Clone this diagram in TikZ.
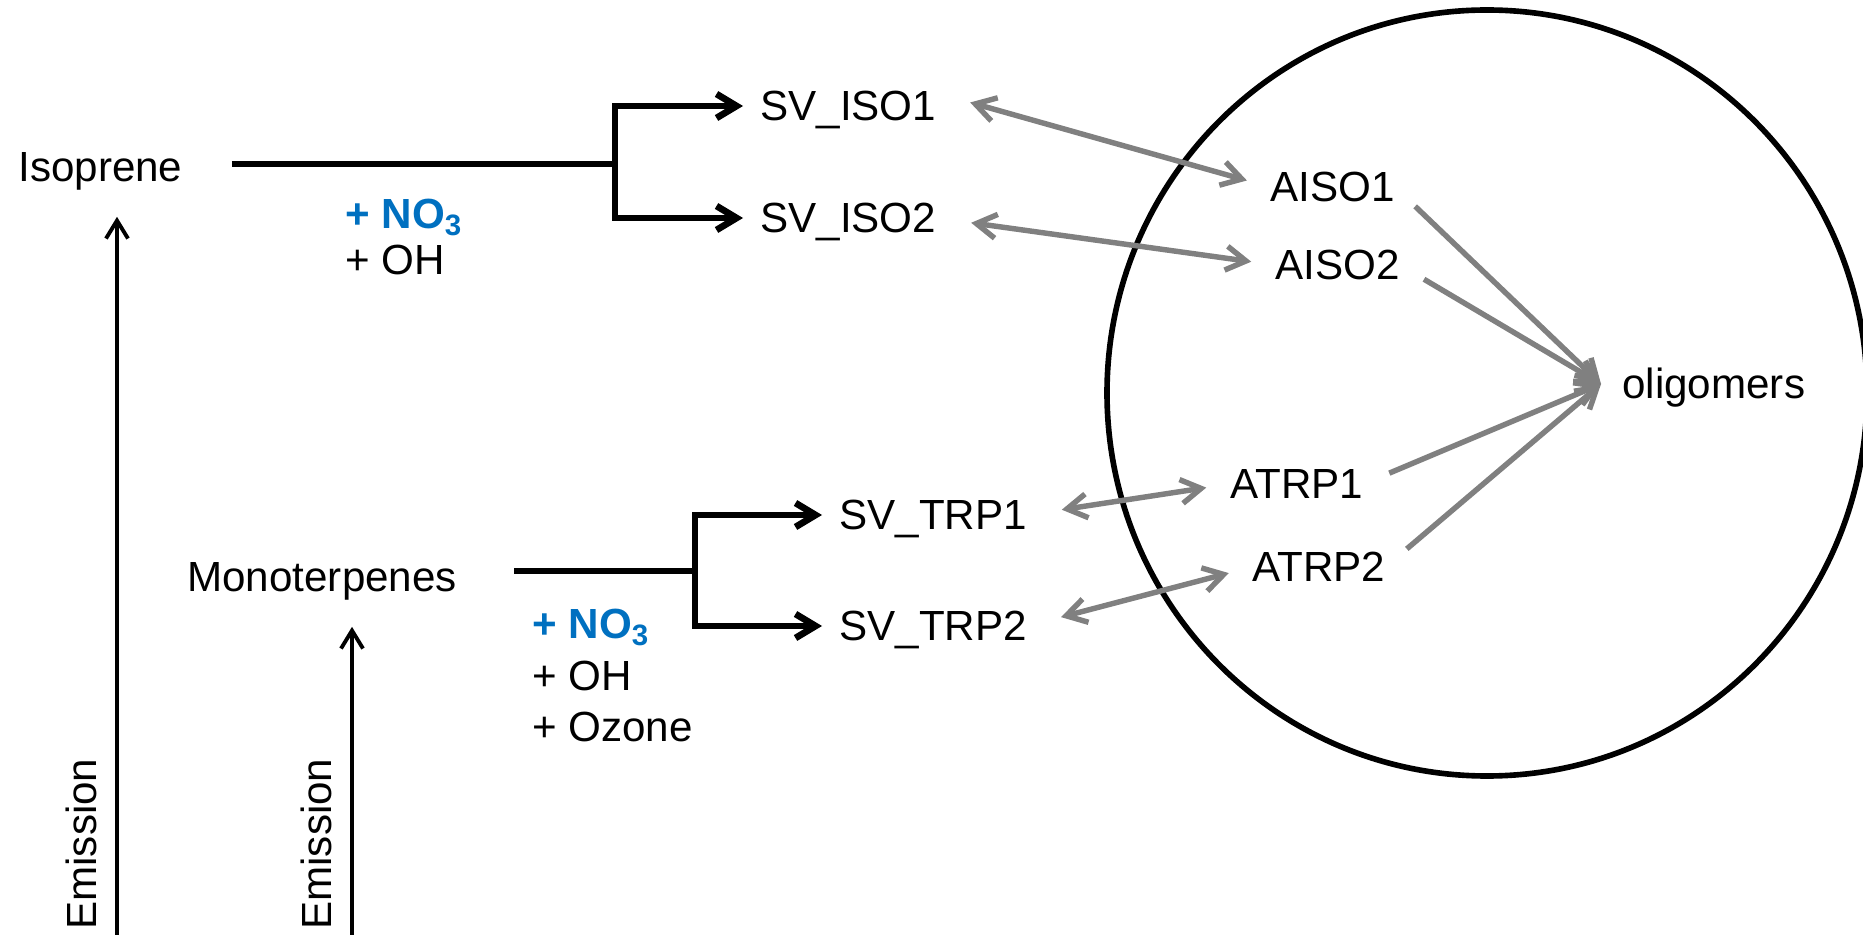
\documentclass[tikz,border=0pt]{standalone}
\usepackage{fontspec}
\setmainfont{Liberation Sans}
\usepackage{xcolor}
\definecolor{no3blue}{HTML}{0070C0}
\definecolor{exgray}{HTML}{808080}
\usepackage{tikz}
\usetikzlibrary{arrows.meta, positioning}

\begin{document}
\begin{tikzpicture}[
    x=0.02cm, y=-0.02cm,
    lbl/.style={
        inner sep=0pt, anchor=west,
        text height=16.5pt, text depth=0pt,
        font=\fontsize{24}{29}\selectfont
    },
    nox/.style={lbl, text=no3blue, font=\fontsize{24}{29}\selectfont\bfseries},
    rxn/.style={line width=3.8pt},
    arr/.style={rxn, -{Straight Barb[length=0.4cm, width=0.48cm]}, shorten >=0.34cm},
    ex/.style={exgray, line width=3.1pt,
        {Straight Barb[length=0.4cm, width=0.48cm]}-{Straight Barb[length=0.4cm, width=0.48cm]},
        shorten <=0.7cm, shorten >=0.48cm},
    ag/.style={exgray, line width=3.1pt, -{Straight Barb[length=0.4cm, width=0.48cm]}, shorten <=0.56cm},
    emi/.style={line width=2.2pt, -{Straight Barb[length=0.36cm, width=0.44cm]}, shorten >=0.7cm}
]
\useasboundingbox (0,0) rectangle (1863,935);

\draw[line width=3.2pt] (1487,393) ellipse [x radius=380, y radius=383];

\node[lbl] (iso)    at (18,167)   {Isoprene};
\node[lbl] (sviso1) at (760,106)  {SV\_ISO1};
\node[lbl] (sviso2) at (760,218)  {SV\_ISO2};
\node[lbl] (mono)   at (187,577)  {Monoterpenes};
\node[lbl] (svtrp1) at (839,515)  {SV\_TRP1};
\node[lbl] (svtrp2) at (839,626)  {SV\_TRP2};
\node[lbl] (aiso1)  at (1270,187) {AISO1};
\node[lbl] (aiso2)  at (1275,265) {AISO2};
\node[lbl] (atrp1)  at (1230,484) {ATRP1};
\node[lbl] (atrp2)  at (1252,567) {ATRP2};
\node[lbl] (olig)   at (1622,384) {oligomers};

\node[nox] (isono3) at (345,214) {+ NO\textsubscript{3}};
\node[lbl, below=0.92cm of isono3.west, anchor=west] (isooh) {+ OH};
\node[nox] (trpno3) at (532,624) {+ NO\textsubscript{3}};
\node[lbl, below=1.04cm of trpno3.west, anchor=west] (trpoh) {+ OH};
\node[lbl, below=1.02cm of trpoh.west, anchor=west] (trpo3) {+ Ozone};

\node[lbl, rotate=90] (emiso)  at (82,930)  {Emission};
\node[lbl, rotate=90] (emmono) at (317,930) {Emission};

\coordinate (isoj)  at (615,164);
\coordinate (monoj) at (695,571);
\coordinate (isob)  at (117,935);
\coordinate (monob) at (352,935);

\draw[rxn] ([shift={(49,-3)}]iso.east) -- (isoj);
\draw[arr] (isoj) |- (sviso1.west);
\draw[arr] (isoj) |- (sviso2.west);
\draw[rxn] ([shift={(57,-6)}]mono.east) -- (monoj);
\draw[arr] (monoj) |- (svtrp1.west);
\draw[arr] (monoj) |- (svtrp2.west);

\draw[emi] (isob) -- (isob |- iso.south);
\draw[emi] (monob) -- (monob |- mono.south);

\draw[ex] ([yshift=0.26cm]sviso1.east) -- (aiso1.west);
\draw[ex] (sviso2.east) -- (aiso2.west);
\draw[ex] (svtrp1.east) -- (atrp1.west);
\draw[ex] (svtrp2.east) -- (atrp2.west);

\draw[ag] (aiso1.east) -- ([xshift=-0.42cm]olig.west);
\draw[ag] (aiso2.east) -- ([xshift=-0.42cm]olig.west);
\draw[ag] (atrp1.east) -- ([xshift=-0.42cm]olig.west);
\draw[ag] (atrp2.east) -- ([xshift=-0.42cm]olig.west);

\end{tikzpicture}
\end{document}
